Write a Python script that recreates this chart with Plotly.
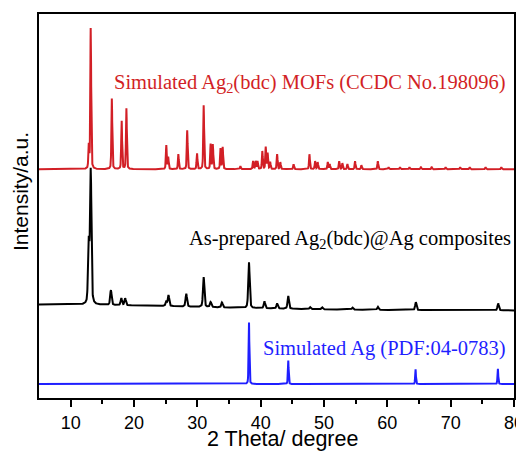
import numpy as np
import plotly.graph_objects as go

# ---- data (2theta in degrees, heights in arbitrary units) ----
mof_pos = [12.86, 13.17, 16.5, 18.05, 18.8, 25.1, 25.4, 27.0, 28.4, 29.95, 31.0, 32.1, 32.45,
           33.65, 34.0, 36.8, 38.8, 39.2, 39.5, 40.26, 40.8, 41.1, 41.5, 42.6, 43.1, 45.2,
           47.7, 48.6, 49.0, 50.6, 50.9, 52.4, 52.9, 53.7, 54.9, 55.9, 58.5, 60.2, 62.0,
           63.5, 65.3, 67.0, 69.2, 71.5, 73.0, 75.5, 78.0]
mof_int = [23, 143, 71, 49, 61, 24, 12, 15, 39, 16, 64, 25, 25,
           21, 22, 3, 8, 8, 8, 18, 22, 16, 7, 15, 7, 5,
           15, 8, 7, 7, 5, 8, 6, 5, 8, 4, 8, 2, 2,
           2, 2, 2, 2, 2, 2, 2, 2]

comp_pos = [12.85, 13.17, 16.35, 18.0, 18.6, 25.1, 25.45, 28.25, 31.0, 32.1, 33.9, 38.15,
            40.6, 42.6, 44.35, 47.8, 49.7, 54.5, 58.5, 64.5, 77.5]
comp_int = [60, 134, 15, 7, 7, 5, 11, 13, 30, 5, 5, 46,
            7, 5, 13, 2, 2, 2, 3, 8, 7]
comp_bg_pos = 5.0      # broad low-angle background hump
comp_bg_int = 6.0

ag_pos = [38.15, 44.35, 64.45, 77.45]
ag_int = [63, 24, 15, 15.5]

labels = ["Simulated Ag<sub>2</sub>(bdc) MOFs (CCDC No.198096)",
          "As-prepared Ag<sub>2</sub>(bdc)@Ag composites",
          "Simulated Ag (PDF:04-0783)"]
x_ticks = [10, 20, 30, 40, 50, 60, 70, 80]

# ---- layout constants ----
offset_mof, offset_comp, offset_ag = 230, 88, 14
RED, BLACK, BLUE = "#d21f26", "#000000", "#1f1fff"
PAGE_PAD = 8   # default body margin of the html page

x = np.arange(5, 80.0001, 0.02)


def profile(pos, inten, fwhm):
    y = np.zeros_like(x)
    for p, h in zip(pos, inten):
        g = np.exp(-4 * np.log(2) * ((x - p) / fwhm) ** 2)
        l = 1 / (1 + 4 * ((x - p) / fwhm) ** 2)
        y += h * (0.6 * g + 0.4 * l)
    return y


y_mof = offset_mof + profile(mof_pos, mof_int, 0.16)
y_comp = offset_comp + profile(comp_pos, comp_int, 0.26) + \
    comp_bg_int * np.exp(-0.5 * ((x - comp_bg_pos) / 25) ** 2)
y_ag = offset_ag + profile(ag_pos, ag_int, 0.14)

fig = go.Figure()
fig.add_trace(go.Scatter(x=x, y=y_ag, mode="lines", line=dict(color=BLUE, width=2)))
fig.add_trace(go.Scatter(x=x, y=y_comp, mode="lines", line=dict(color=BLACK, width=2)))
fig.add_trace(go.Scatter(x=x, y=y_mof, mode="lines", line=dict(color=RED, width=2)))

serif = "Liberation Serif, Times New Roman, serif"
sans = "Liberation Sans, Arial, sans-serif"

fig.add_annotation(x=16.5, y=316, text=labels[0], showarrow=False, xanchor="left",
                   yanchor="middle", font=dict(family=serif, size=20.5, color=RED))
fig.add_annotation(x=28.4, y=159, text=labels[1], showarrow=False, xanchor="left",
                   yanchor="middle", font=dict(family=serif, size=20.5, color=BLACK))
fig.add_annotation(x=40.1, y=49.3, text=labels[2], showarrow=False, xanchor="left",
                   yanchor="middle", font=dict(family=serif, size=20.5, color=BLUE))

# axis titles
fig.add_annotation(x=0, xref="paper", xshift=-19, y=207, text="Intensity/a.u.", textangle=-90,
                   showarrow=False, xanchor="center", yanchor="middle",
                   font=dict(family=sans, size=21, color="black"))
fig.add_annotation(x=(282.5 - 39) / 475, xref="paper", y=0, yref="paper", yshift=-41,
                   text="2 Theta/ degree", showarrow=False, xanchor="center", yanchor="middle",
                   font=dict(family=sans, size=21.5, color="black"))

fig.update_layout(
    width=524, height=451,
    margin=dict(l=39 - PAGE_PAD, r=10 + PAGE_PAD, t=12 - PAGE_PAD, b=53 + PAGE_PAD),
    paper_bgcolor="white", plot_bgcolor="white",
    showlegend=False,
    xaxis=dict(range=[5, 80], tickvals=x_ticks, ticks="outside", ticklen=7, tickwidth=2,
               tickcolor="black", showline=True, linewidth=2, linecolor="black", mirror=True,
               showgrid=False, zeroline=False,
               tickfont=dict(family=sans, size=18, color="black"),
               minor=dict(tickvals=[15, 25, 35, 45, 55, 65, 75], ticks="outside", ticklen=4,
                          tickwidth=2, tickcolor="black", showgrid=False)),
    yaxis=dict(range=[0, 386], showticklabels=False, ticks="", showline=True, linewidth=2,
               linecolor="black", mirror=True, showgrid=False, zeroline=False),
)

fig.write_html("out.html")
